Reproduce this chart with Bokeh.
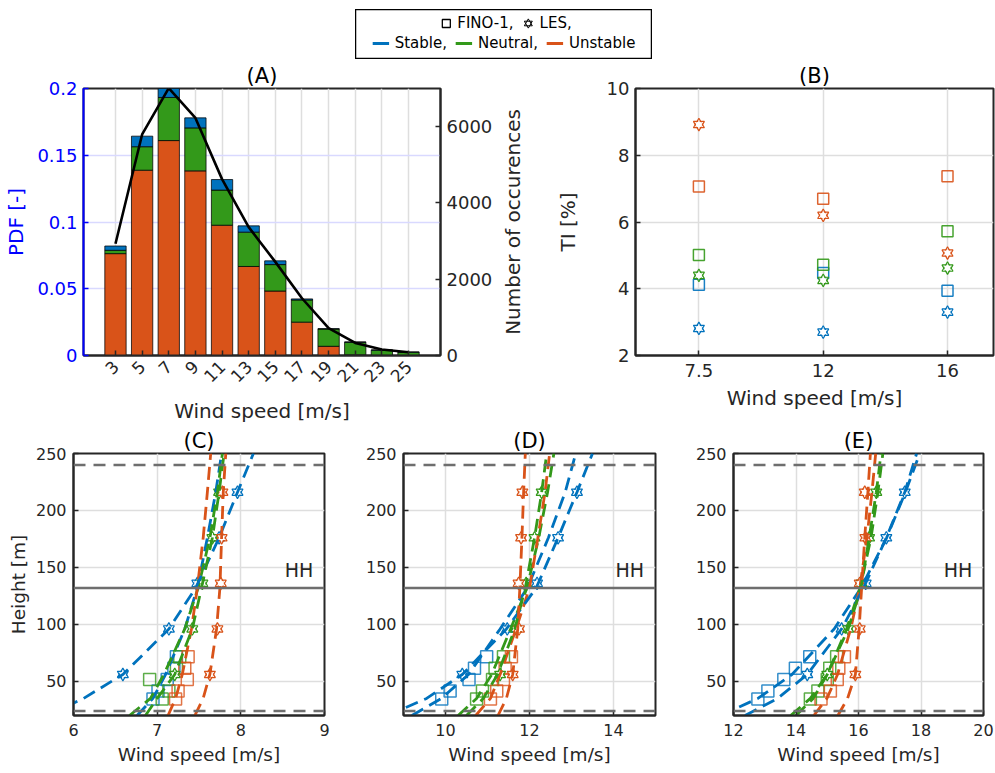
import math
from bokeh.plotting import figure
from bokeh.layouts import column, row
from bokeh.models import (Range1d, LinearAxis, FixedTicker, Legend, LegendItem,
                          Label, Span, ColumnDataSource, Spacer)
from bokeh.embed import file_html
from bokeh.resources import INLINE

# ---------------- data ----------------
speed_bins = [3, 5, 7, 9, 11, 13, 15, 17, 19, 21, 23, 25]
pdf_unstable = [0.0763, 0.1388, 0.1610, 0.1383, 0.0976, 0.0667, 0.0483, 0.0250, 0.0069, 0.0005, 0.0002, 0.0001]
pdf_neutral = [0.0025, 0.0176, 0.0323, 0.0322, 0.0263, 0.0257, 0.0198, 0.0166, 0.0129, 0.0094, 0.0038, 0.0024]
pdf_stable = [0.0032, 0.0079, 0.0075, 0.0075, 0.0079, 0.0047, 0.0028, 0.0008, 0.0003, 0.0003, 0.0002, 0.0001]
occurrences = [2926, 5784, 6996, 6216, 4615, 3359, 2450, 1498, 719, 329, 156, 87]
pdf_ticks = [0, 0.05, 0.1, 0.15, 0.2]
pdf_tick_labels = ["0", "0.05", "0.1", "0.15", "0.2"]
count_ticks = [0, 2000, 4000, 6000]
count_max = 6987

ti_speed_labels = ["7.5", "12", "16"]
ti_fino_stable = [4.12, 4.47, 3.94]
ti_fino_neutral = [5.01, 4.72, 5.72]
ti_fino_unstable = [7.06, 6.70, 7.37]
ti_les_stable = [2.81, 2.70, 3.30]
ti_les_neutral = [4.40, 4.25, 4.62]
ti_les_unstable = [8.92, 6.20, 5.07]

fino_heights = [34.5, 41.5, 51.5, 61.5, 71.5]
les_heights = [56, 96, 136, 176, 216]
fit_heights = [20, 35, 56, 96, 132, 176, 216, 250]
hub_height = 132
rotor_bottom = 24
rotor_top = 240

# panel C (7.5 m/s)
c_fino_stable = [6.95, 7.01, 7.12, 7.20, 7.23]
c_fino_neutral = [7.06, 7.14, 6.91, 7.23, 7.27]
c_fino_unstable = [7.22, 7.25, 7.36, 7.33, 7.37]
c_les_stable = [6.59, 7.14, 7.48, 7.74, 7.96]
c_les_neutral = [7.21, 7.42, 7.54, 7.66, 7.74]
c_les_unstable = [7.63, 7.72, 7.76, 7.77, 7.78]
c_fitf_stable = [6.76, 6.95, 7.10, 7.33, 7.48, 7.60, 7.70, 7.77]
c_fitl_stable = [5.69, 6.12, 6.59, 7.14, 7.46, 7.74, 7.96, 8.15]
c_fitf_neutral = [6.67, 6.92, 7.08, 7.33, 7.49, 7.63, 7.72, 7.78]
c_fitl_neutral = [6.86, 7.00, 7.21, 7.42, 7.53, 7.66, 7.74, 7.80]
c_fitf_unstable = [7.13, 7.22, 7.30, 7.41, 7.48, 7.55, 7.60, 7.64]
c_fitl_unstable = [7.45, 7.55, 7.63, 7.71, 7.75, 7.77, 7.79, 7.82]

# panel D (12 m/s)
d_fino_stable = [9.91, 10.11, 10.56, 10.69, 10.98]
d_fino_neutral = [10.74, 10.88, 11.12, 11.18, 11.38]
d_fino_unstable = [11.07, 11.22, 11.38, 11.42, 11.57]
d_les_stable = [10.40, 11.47, 12.18, 12.68, 13.13]
d_les_neutral = [11.30, 11.68, 11.92, 12.12, 12.29]
d_les_unstable = [11.60, 11.75, 11.74, 11.80, 11.83]
d_fitf_stable = [9.20, 9.90, 10.55, 11.30, 11.95, 12.45, 12.85, 13.10]
d_fitl_stable = [8.62, 9.55, 10.40, 11.45, 12.16, 12.68, 13.13, 13.50]
d_fitf_neutral = [10.30, 10.74, 11.10, 11.55, 11.94, 12.22, 12.43, 12.58]
d_fitl_neutral = [10.50, 10.90, 11.24, 11.65, 11.90, 12.12, 12.29, 12.41]
d_fitf_unstable = [10.72, 11.07, 11.30, 11.68, 12.00, 12.20, 12.37, 12.48]
d_fitl_unstable = [11.25, 11.45, 11.60, 11.72, 11.77, 11.82, 11.86, 11.90]

# panel E (16 m/s)
e_fino_stable = [12.78, 13.10, 13.61, 13.98, 14.44]
e_fino_neutral = [14.46, 14.70, 15.00, 15.08, 15.30]
e_fino_unstable = [14.80, 15.10, 15.32, 15.37, 15.55]
e_les_stable = [14.36, 15.46, 16.23, 16.89, 17.48]
e_les_neutral = [15.00, 15.67, 16.10, 16.34, 16.57]
e_les_unstable = [15.90, 16.04, 16.04, 16.22, 16.20]
e_fitf_stable = [11.60, 12.78, 13.87, 15.22, 16.08, 16.90, 17.50, 17.96]
e_fitl_stable = [12.37, 13.41, 14.36, 15.46, 16.16, 16.89, 17.48, 17.86]
e_fitf_neutral = [13.83, 14.46, 15.00, 15.62, 16.05, 16.40, 16.62, 16.78]
e_fitl_neutral = [14.00, 14.55, 15.00, 15.67, 16.08, 16.34, 16.57, 16.72]
e_fitf_unstable = [14.57, 14.99, 15.33, 15.75, 16.04, 16.27, 16.43, 16.55]
e_fitl_unstable = [15.34, 15.65, 15.90, 16.02, 16.10, 16.20, 16.30, 16.38]

# ---------------- style ----------------
FONT = "DejaVu Sans"
BLUE = "#0072BD"
GREEN = "#33991A"
ORANGE = "#D95319"
AX = "#262626"
GRID = "#dedede"
HLINE = "#6e6e6e"
DASH = "13 7"


def make_fig(width, height, xr, yr, bl, br, bt, bb):
    p = figure(width=width, height=height, x_range=xr, y_range=yr,
               output_backend="svg", toolbar_location=None,
               min_border_left=bl, min_border_right=br,
               min_border_top=bt, min_border_bottom=bb)
    p.outline_line_color = AX
    p.outline_line_width = 2
    p.outline_line_alpha = 1
    p.border_fill_color = "white"
    p.background_fill_color = "white"
    p.grid.grid_line_color = GRID
    p.grid.grid_line_width = 1.5
    return p


def style_axis(ax, size, label_size, color=AX):
    ax.major_label_text_font = FONT
    ax.major_label_text_font_size = f"{size}px"
    ax.major_label_text_color = color
    ax.axis_label_text_font = FONT
    ax.axis_label_text_font_size = f"{label_size}px"
    ax.axis_label_text_font_style = "normal"
    ax.axis_label_text_color = color
    ax.axis_line_color = color
    ax.axis_line_width = 2
    ax.major_tick_line_color = color
    ax.major_tick_line_width = 1.5
    ax.major_tick_in = 5
    ax.major_tick_out = 0
    ax.minor_tick_line_color = None


def set_title(p, text, size, standoff):
    p.title.text = text
    p.title.align = "center"
    p.title.text_font = FONT
    p.title.text_font_size = f"{size}px"
    p.title.text_font_style = "normal"
    p.title.text_color = "black"
    p.title.standoff = standoff


def hexagram(p, xs, ys, color, size, lw=1.2, cover=True):
    src = ColumnDataSource(dict(x=xs, y=ys))
    rs = []
    for m in ("triangle", "inverted_triangle"):
        rs.append(p.scatter("x", "y", source=src, marker=m, size=size,
                            fill_color=None, line_color=color, line_width=lw))
    if cover:
        for m in ("triangle", "inverted_triangle"):
            rs.append(p.scatter("x", "y", source=src, marker=m, size=size - 3.4,
                                fill_color="white", line_color=None))
    return rs


# ---------------- legend box ----------------
lf = figure(width=297, height=50, x_range=Range1d(0, 1), y_range=Range1d(0, 1),
            x_axis_type=None, y_axis_type=None, output_backend="svg",
            toolbar_location=None, min_border=0)
lf.outline_line_color = "black"
lf.outline_line_width = 1.5
off = [-10]
r_sq = lf.scatter(x=off, y=off, marker="square", size=8, fill_color=None,
                  line_color="black", line_width=1.3)
r_hex = hexagram(lf, off, off, "black", 11, lw=1.0, cover=False)
r_st = lf.line(x=off, y=off, line_color=BLUE, line_width=3)
r_ne = lf.line(x=off, y=off, line_color=GREEN, line_width=3)
r_un = lf.line(x=off, y=off, line_color=ORANGE, line_width=3)


def mk_legend(items, loc, margin):
    lg = Legend(items=items, orientation="horizontal", location=loc,
                margin=margin, padding=0, spacing=8, glyph_width=17,
                glyph_height=16, label_height=16, label_standoff=6,
                border_line_color=None, background_fill_alpha=0,
                label_text_font=FONT, label_text_font_size="15px",
                label_text_color="black")
    return lg


leg1 = mk_legend([LegendItem(label="FINO-1,", renderers=[r_sq]),
                  LegendItem(label="LES,", renderers=r_hex)], "top_center", 3)
leg1.glyph_width = 20
leg1.glyph_height = 22
leg1.label_standoff = 2
leg1.spacing = 4
leg2 = mk_legend([LegendItem(label="Stable,", renderers=[r_st]),
                  LegendItem(label="Neutral,", renderers=[r_ne]),
                  LegendItem(label="Unstable", renderers=[r_un])], "bottom_center", 7)
lf.add_layout(leg1)
lf.add_layout(leg2)

# ---------------- panel A ----------------
pa = make_fig(495, 365, Range1d(0.6, 27.4), Range1d(0, 0.2), 83, 53, 27, 69)
set_title(pa, "(A)", 21, 2)
n_top = [u + n for u, n in zip(pdf_unstable, pdf_neutral)]
s_top = [t + s for t, s in zip(n_top, pdf_stable)]
bar_kw = dict(width=1.6, line_color="black", line_alpha=0.75, line_width=1)
pa.vbar(x=speed_bins, bottom=0, top=pdf_unstable, fill_color=ORANGE, **bar_kw)
pa.vbar(x=speed_bins, bottom=pdf_unstable, top=n_top, fill_color=GREEN, **bar_kw)
pa.vbar(x=speed_bins, bottom=n_top, top=s_top, fill_color=BLUE, **bar_kw)
pa.extra_y_ranges = {"count": Range1d(0, count_max)}
pa.line(speed_bins, occurrences, y_range_name="count", line_color="black", line_width=2.6)

ya = pa.yaxis[0]
style_axis(ya, 18, 20, color="#0000FF")
ya.ticker = FixedTicker(ticks=pdf_ticks)
ya.major_label_overrides = {t: l for t, l in zip(pdf_ticks, pdf_tick_labels)}
ya.axis_label = "PDF [-]"
ya.major_label_standoff = 6
ya.axis_label_standoff = 6

xa = pa.xaxis[0]
style_axis(xa, 17, 20)
xa.ticker = FixedTicker(ticks=speed_bins)
xa.major_label_orientation = math.pi / 4
xa.major_label_standoff = 8
xa.axis_label = "Wind speed [m/s]"
xa.axis_label_standoff = 8
pa.ygrid.grid_line_color = "#d9d9ff"

ax_r = LinearAxis(y_range_name="count", ticker=FixedTicker(ticks=count_ticks))
style_axis(ax_r, 18, 20)
ax_r.major_label_standoff = 6
pa.add_layout(ax_r, "right")

# right-hand axis title of panel A (own strip so it reads bottom-to-top)
pl = figure(width=45, height=365, x_range=Range1d(0, 1), y_range=Range1d(0, 1),
            x_axis_type=None, output_backend="svg", toolbar_location=None,
            min_border_left=44, min_border_right=0, min_border_top=27, min_border_bottom=69)
pl.outline_line_color = None
pl.ygrid.visible = False
yl = pl.yaxis[0]
style_axis(yl, 1, 20)
yl.ticker = FixedTicker(ticks=[])
yl.axis_line_color = None
yl.major_tick_line_color = None
yl.major_label_standoff = 0
yl.axis_label = "Number of occurences"
yl.axis_label_standoff = 15

# ---------------- panel B ----------------
pb = make_fig(455, 365, Range1d(0.49, 3.37), Range1d(2, 10), 95, 2, 27, 69)
set_title(pb, "(B)", 21, 2)
xb = [1, 2, 3]
for vals, col in ((ti_fino_stable, BLUE), (ti_fino_neutral, GREEN), (ti_fino_unstable, ORANGE)):
    pb.scatter(xb, vals, marker="square", size=11, fill_color=None,
               line_color=col, line_width=1.5, line_alpha=0.9)
for vals, col in ((ti_les_stable, BLUE), (ti_les_neutral, GREEN), (ti_les_unstable, ORANGE)):
    hexagram(pb, xb, vals, col, 11)
style_axis(pb.xaxis[0], 18, 20)
style_axis(pb.yaxis[0], 18, 20)
pb.xaxis[0].ticker = FixedTicker(ticks=xb)
pb.xaxis[0].major_label_overrides = {i: l for i, l in zip(xb, ti_speed_labels)}
pb.xaxis[0].axis_label = "Wind speed [m/s]"
pb.xaxis[0].major_label_standoff = 8
pb.xaxis[0].axis_label_standoff = 6
pb.yaxis[0].ticker = FixedTicker(ticks=[2, 4, 6, 8, 10])
pb.yaxis[0].axis_label = "TI [%]"
pb.yaxis[0].major_label_standoff = 6
pb.yaxis[0].axis_label_standoff = 24


# ---------------- panels C, D, E ----------------
def profile_panel(title, xr, xticks, width, br, fino, les, fitf, fitl, ylabel):
    p = make_fig(width, 348, Range1d(*xr), Range1d(20, 250), 73, br, 28, 58)
    set_title(p, title, 21, 2)
    cols = (BLUE, GREEN, ORANGE)
    for vals, col in zip(fino, cols):
        p.scatter(vals, fino_heights, marker="square", size=12, fill_color=None,
                  line_color=col, line_width=1.5, line_alpha=0.8)
    for vals, col in zip(les, cols):
        hexagram(p, vals, les_heights, col, 11)
    for vals, col in zip(fitf, cols):
        p.line(vals, fit_heights, line_color=col, line_width=2.8, line_dash=DASH)
    for vals, col in zip(fitl, cols):
        p.line(vals, fit_heights, line_color=col, line_width=2.8, line_dash=DASH)
    for loc in (rotor_top, rotor_bottom):
        p.add_layout(Span(location=loc, dimension="width", line_color=HLINE,
                          line_width=2.5, line_dash="12 8"))
    p.add_layout(Span(location=hub_height, dimension="width", line_color=HLINE,
                      line_width=2.5))
    p.add_layout(Label(x=xr[1] - 0.045 * (xr[1] - xr[0]), y=138, text="HH",
                       text_align="right", text_baseline="bottom",
                       text_font=FONT, text_font_size="19px", text_color=AX))
    style_axis(p.xaxis[0], 16, 18.5)
    style_axis(p.yaxis[0], 16, 18.5)
    p.xaxis[0].ticker = FixedTicker(ticks=xticks)
    p.xaxis[0].axis_label = "Wind speed [m/s]"
    p.xaxis[0].major_label_standoff = 8
    p.xaxis[0].axis_label_standoff = 5
    p.yaxis[0].ticker = FixedTicker(ticks=[50, 100, 150, 200, 250])
    p.yaxis[0].major_label_standoff = 7
    if ylabel:
        p.yaxis[0].axis_label = ylabel
        p.yaxis[0].axis_label_standoff = 4
    return p


pc = profile_panel("(C)", (6, 9), [6, 7, 8, 9], 330, 6,
                   (c_fino_stable, c_fino_neutral, c_fino_unstable),
                   (c_les_stable, c_les_neutral, c_les_unstable),
                   (c_fitf_stable, c_fitf_neutral, c_fitf_unstable),
                   (c_fitl_stable, c_fitl_neutral, c_fitl_unstable), "Height [m]")
pd_ = profile_panel("(D)", (9, 15), [10, 12, 14], 330, 5,
                    (d_fino_stable, d_fino_neutral, d_fino_unstable),
                    (d_les_stable, d_les_neutral, d_les_unstable),
                    (d_fitf_stable, d_fitf_neutral, d_fitf_unstable),
                    (d_fitl_stable, d_fitl_neutral, d_fitl_unstable), None)
pe = profile_panel("(E)", (12, 20), [12, 14, 16, 18, 20], 335, 12,
                   (e_fino_stable, e_fino_neutral, e_fino_unstable),
                   (e_les_stable, e_les_neutral, e_les_unstable),
                   (e_fitf_stable, e_fitf_neutral, e_fitf_unstable),
                   (e_fitl_stable, e_fitl_neutral, e_fitl_unstable), None)

top = row(Spacer(width=355, height=60),
          column(Spacer(width=297, height=9), lf, Spacer(width=297, height=1)),
          Spacer(width=343, height=60))
layout = column(top, row(pa, pl, pb), row(pc, pd_, pe))

with open("out.html", "w") as f:
    f.write(file_html(layout, INLINE))
